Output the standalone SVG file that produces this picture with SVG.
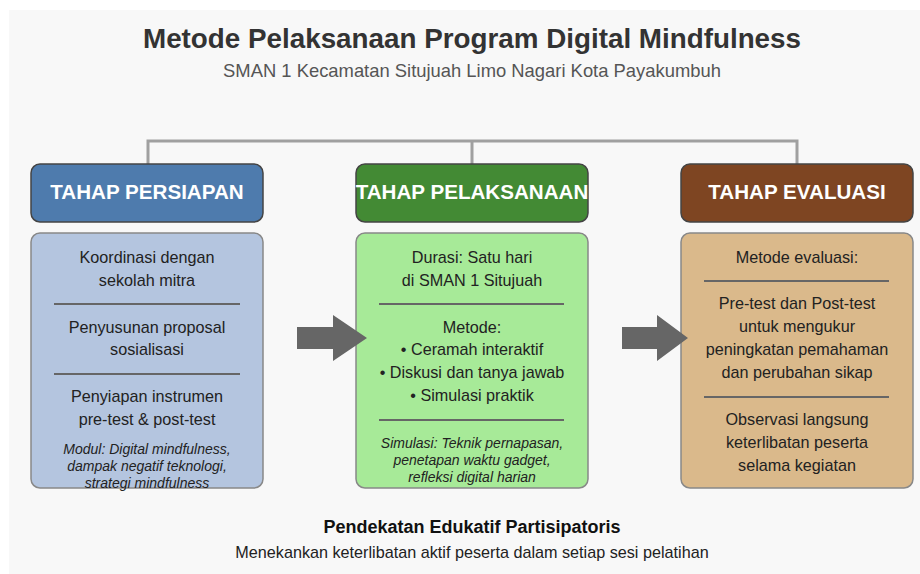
<svg xmlns="http://www.w3.org/2000/svg" width="920" height="574" viewBox="0 0 920 574">
<style>
.t{font-family:"Liberation Sans",Arial,sans-serif;text-anchor:middle}
.title{font-size:27.8px;font-weight:bold;fill:#333}
.sub{font-size:18.4px;fill:#555}
.hd{font-size:20.6px;font-weight:bold;fill:#fff}
.bd{font-size:16.2px;fill:#222}
.it{font-size:14px;font-style:italic;fill:#222}
.sep{stroke:#666;stroke-width:2}
.hbox{stroke:#444;stroke-width:1.5}
.cbox{stroke:#888;stroke-width:1.5}
.conn{stroke:#a0a0a0;stroke-width:3;fill:none}
.arrow{fill:#666}
</style>
<rect x="0" y="0" width="920" height="574" fill="#fff"/>
<rect x="9" y="10" width="911" height="564" fill="#f8f8f8"/>
<text class="t title" x="472" y="48">Metode Pelaksanaan Program Digital Mindfulness</text>
<text class="t sub" x="472" y="77">SMAN 1 Kecamatan Situjuah Limo Nagari Kota Payakumbuh</text>
<g id="connectors">
<path class="conn" d="M148 164 V141 H797 V164 M472 141 V164"/>
</g>
<g id="persiapan">
<rect class="hbox" x="31" y="164" width="232" height="58" rx="9" fill="#4e7bad"/>
<text class="t hd" x="147" y="199">TAHAP PERSIAPAN</text>
<rect class="cbox" x="31" y="233" width="232" height="255" rx="9" fill="#b4c5df"/>
<text class="t bd" x="147" y="263">Koordinasi dengan</text>
<text class="t bd" x="147" y="286">sekolah mitra</text>
<line class="sep" x1="54" y1="304" x2="240" y2="304"/>
<text class="t bd" x="147" y="333">Penyusunan proposal</text>
<text class="t bd" x="147" y="355">sosialisasi</text>
<line class="sep" x1="54" y1="374" x2="240" y2="374"/>
<text class="t bd" x="147" y="402">Penyiapan instrumen</text>
<text class="t bd" x="147" y="425">pre-test &amp; post-test</text>
<text class="t it" x="147" y="454">Modul: Digital mindfulness,</text>
<text class="t it" x="147" y="471">dampak negatif teknologi,</text>
<text class="t it" x="147" y="488">strategi mindfulness</text>
</g>
<g id="pelaksanaan">
<rect class="hbox" x="356" y="164" width="232" height="58" rx="9" fill="#438a34"/>
<text class="t hd" x="472" y="199">TAHAP PELAKSANAAN</text>
<rect class="cbox" x="356" y="233" width="232" height="255" rx="9" fill="#a7ea98"/>
<text class="t bd" x="472" y="263">Durasi: Satu hari</text>
<text class="t bd" x="472" y="286">di SMAN 1 Situjuah</text>
<line class="sep" x1="379" y1="304" x2="564" y2="304"/>
<text class="t bd" x="472" y="333">Metode:</text>
<text class="t bd" x="472" y="355">• Ceramah interaktif</text>
<text class="t bd" x="472" y="378">• Diskusi dan tanya jawab</text>
<text class="t bd" x="472" y="401">• Simulasi praktik</text>
<line class="sep" x1="379" y1="420" x2="564" y2="420"/>
<text class="t it" x="472" y="448">Simulasi: Teknik pernapasan,</text>
<text class="t it" x="472" y="465">penetapan waktu gadget,</text>
<text class="t it" x="472" y="482">refleksi digital harian</text>
</g>
<g id="evaluasi">
<rect class="hbox" x="681" y="164" width="232" height="58" rx="9" fill="#7e4522"/>
<text class="t hd" x="797" y="199">TAHAP EVALUASI</text>
<rect class="cbox" x="681" y="233" width="232" height="255" rx="9" fill="#dab98b"/>
<text class="t bd" x="797" y="263">Metode evaluasi:</text>
<line class="sep" x1="704" y1="281" x2="889" y2="281"/>
<text class="t bd" x="797" y="309">Pre-test dan Post-test</text>
<text class="t bd" x="797" y="332">untuk mengukur</text>
<text class="t bd" x="797" y="355">peningkatan pemahaman</text>
<text class="t bd" x="797" y="378">dan perubahan sikap</text>
<line class="sep" x1="704" y1="397" x2="889" y2="397"/>
<text class="t bd" x="797" y="425">Observasi langsung</text>
<text class="t bd" x="797" y="448">keterlibatan peserta</text>
<text class="t bd" x="797" y="471">selama kegiatan</text>
</g>
<g id="arrows">
<polygon class="arrow" points="297,327 333,327 333,315 367,338 333,361 333,349 297,349"/>
<polygon class="arrow" points="622,327 657,327 657,315 688,338 657,361 657,349 622,349"/>
</g>
<g id="footer">
<text class="t" x="472" y="533" style="font-size:18px;font-weight:bold;fill:#111">Pendekatan Edukatif Partisipatoris</text>
<text class="t" x="472" y="558" style="font-size:16.2px;fill:#222">Menekankan keterlibatan aktif peserta dalam setiap sesi pelatihan</text>
</g>
</svg>
